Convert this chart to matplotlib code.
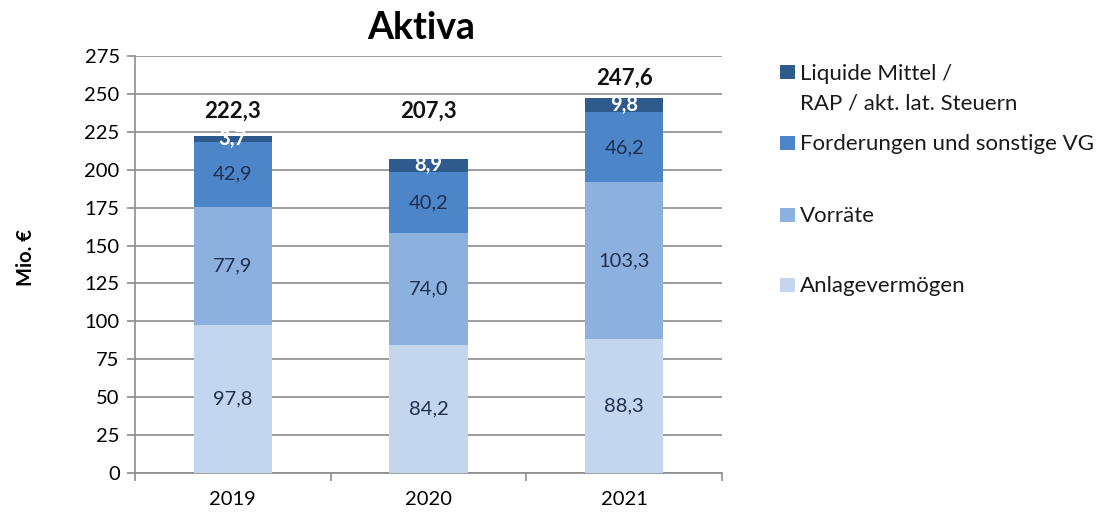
import matplotlib
matplotlib.use("Agg")
import matplotlib.pyplot as plt
from matplotlib.patches import Rectangle
import numpy as np

plt.rcParams['font.family'] = ['Lato', 'DejaVu Sans']

years = ["2019", "2020", "2021"]
anlage = [97.8, 84.2, 88.3]
vorraete = [77.9, 74.0, 103.3]
forderungen = [42.9, 40.2, 46.2]
liquide = [3.7, 8.9, 9.8]
totals = [222.3, 207.3, 247.6]
total_labels = ["222,3", "207,3", "247,6"]

series_names = ["Anlagevermögen", "Vorräte", "Forderungen und sonstige VG",
                "Liquide Mittel /\nRAP / akt. lat. Steuern"]
colors = ["#C4D6EE", "#8DB1DE", "#4D86C8", "#2F5A8E"]
label_colors = ["#1F2F4F", "#1F2F4F", "#1F2F4F", "white"]

W, H = 1104, 513
fig = plt.figure(figsize=(W/100, H/100), dpi=100)
ax = fig.add_axes([135/W, 1-473/H, (722-135)/W, (473-56)/H])

x = np.arange(len(years))
width = 0.40
bottom = np.zeros(len(years))
for vals, name, c, lc in zip([anlage, vorraete, forderungen, liquide], series_names, colors, label_colors):
    vals = np.array(vals)
    ax.bar(x, vals, width, bottom=bottom, color=c, zorder=3, label=name)
    for xi, b, v in zip(x, bottom, vals):
        ax.text(xi, b + v/2, f"{v:.1f}".replace(".", ","), ha="center", va="center",
                fontsize=14.5, color=lc, zorder=4,
                fontweight="bold" if lc == "white" else "normal")
    bottom = bottom + vals

offsets = [16, 31, 13]
for xi, t, lab, off in zip(x, totals, total_labels, offsets):
    ax.text(xi, t + off, lab, ha="center", va="center", fontsize=16,
            fontweight="bold", color="#111111")

ax.set_xlim(-0.5, 2.5)
ax.set_ylim(0, 275)
ax.set_yticks(np.arange(0, 276, 25))
ax.tick_params(axis="y", labelsize=14.5, length=6, color="#8C8C8C", width=1.2, pad=5)
ax.set_xticks(x)
ax.set_xticklabels(years, fontsize=14.5)
ax.set_xticks([-0.5, 0.5, 1.5, 2.5], minor=True)
ax.tick_params(axis="x", which="major", length=0, pad=13)
ax.tick_params(axis="x", which="minor", length=6, color="#8C8C8C", width=1.2)
ax.yaxis.grid(True, color="#8C8C8C", linewidth=1.2, zorder=0)
for s in ["top", "right"]:
    ax.spines[s].set_visible(False)
for s in ["left", "bottom"]:
    ax.spines[s].set_color("#8C8C8C")
    ax.spines[s].set_linewidth(1.2)

ax.set_ylabel("Mio. €", fontsize=14.5, fontweight="bold", va="center")
ax.yaxis.set_label_coords((26-135)/587, (473-257)/417)
fig.text(421/W, 1-28/H, "Aktiva", fontsize=27, fontweight="bold", ha="center", va="center")

# legend (top entry first, as in the reference)
legend_entries = list(zip(series_names, colors))[::-1]
centers = [72, 143, 215, 285]
for (name, c), cy in zip(legend_entries, centers):
    fig.add_artist(Rectangle((780/W, 1-(cy+7)/H), 15/W, 14/H, transform=fig.transFigure,
                             facecolor=c, edgecolor="none"))
    for k, line in enumerate(name.split("\n")):
        fig.text(800/W, 1-(cy + 7.5 + 30*k)/H, line, fontsize=16, ha="left",
                 va="baseline", color="#1a1a1a")

fig.savefig("out.png", dpi=100)
